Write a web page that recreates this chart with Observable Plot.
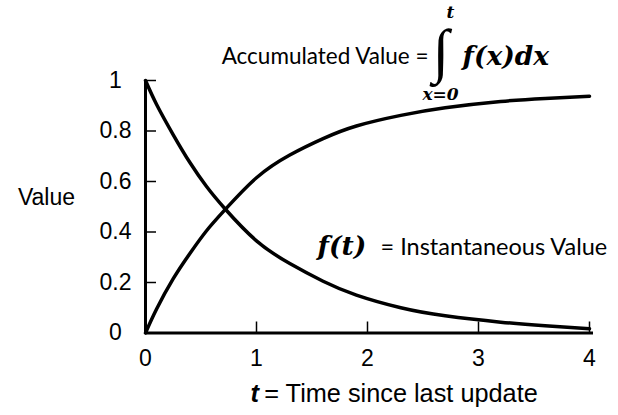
<!DOCTYPE html>
<html>
<head>
<meta charset="utf-8">
<script src="https://cdn.jsdelivr.net/npm/d3@7"></script>
<script src="https://cdn.jsdelivr.net/npm/@observablehq/plot@0.6"></script>
<style>
  html, body { margin: 0; padding: 0; background: #fff; }
  #chart svg { display: block; }
</style>
</head>
<body>
<div id="chart"></div>
<script>
// ---- data ----
const timeValues = [0, 0.1, 0.25, 0.4, 0.55, 0.72, 1.0, 1.3, 1.6, 1.9, 2.3, 2.7, 3.2, 3.6, 4.0];
const accumulatedValues = [0, 0.095, 0.215, 0.315, 0.405, 0.49, 0.615, 0.705, 0.77, 0.82, 0.862, 0.892, 0.917, 0.929, 0.938];
const instantaneousValues = [1.0, 0.905, 0.785, 0.675, 0.58, 0.49, 0.365, 0.275, 0.205, 0.15, 0.10, 0.068, 0.043, 0.029, 0.017];
const xTicks = [0, 1, 2, 3, 4];
const yTicks = [0, 0.2, 0.4, 0.6, 0.8, 1];
const yLabel = "Value";
const xLabelVar = "t";
const xLabelRest = "= Time since last update";
const accLabel = "Accumulated Value =";
const integralSign = "\u222B";
const upperLimit = "t";
const lowerLimit = "x=0";
const integrand = "f(x)dx";
const instFunc = "f(t)";
const instLabel = "= Instantaneous Value";

const accData = timeValues.map((t, i) => ({t, v: accumulatedValues[i]}));
const instData = timeValues.map((t, i) => ({t, v: instantaneousValues[i]}));

const sans = "Liberation Sans, Arial, sans-serif";
const humanist = "Lato, Open Sans, sans-serif";
const mathFont = "DejaVu Serif, serif";
const fmt = d => String(d);

const chart = Plot.plot({
  width: 618,
  height: 415,
  marginLeft: 145,
  marginRight: 29,
  marginTop: 80,
  marginBottom: 82.5,
  x: {domain: [0, 4]},
  y: {domain: [0, 1]},
  style: {fontFamily: sans, color: "#000", background: "#fff"},
  marks: [
    Plot.axisX({ticks: xTicks, tickFormat: fmt, tickSize: -11, tickPadding: 28, fontSize: 23, strokeWidth: 1.5, label: null, fontFamily: sans}),
    Plot.axisY({ticks: yTicks, tickFormat: fmt, tickSize: -11, tickPadding: 41, textAnchor: "middle", fontSize: 23, strokeWidth: 1.5, label: null, fontFamily: sans}),
    Plot.ruleX([0], {stroke: "#000", strokeWidth: 3}),
    Plot.ruleY([0], {stroke: "#000", strokeWidth: 3, insetRight: -4}),
    Plot.line(accData, {x: "t", y: "v", curve: "natural", stroke: "#000", strokeWidth: 3.5}),
    Plot.line(instData, {x: "t", y: "v", curve: "natural", stroke: "#000", strokeWidth: 3.5}),
    // y label
    Plot.text([yLabel], {frameAnchor: "left", dx: -99, dy: -9, textAnchor: "middle", lineAnchor: "middle", fontSize: 23, fontFamily: sans}),
    // x label
    Plot.text([xLabelVar], {x: 0.946, y: -0.275, textAnchor: "start", lineAnchor: "bottom", fontSize: 25.5, fontFamily: sans, fontWeight: "bold", fontStyle: "italic"}),
    Plot.text([xLabelRest], {x: 1.07, y: -0.275, textAnchor: "start", lineAnchor: "bottom", fontSize: 25.3, fontFamily: sans}),
    // accumulated annotation
    Plot.text([accLabel], {x: 2.55, y: 1.067, textAnchor: "end", lineAnchor: "bottom", fontSize: 22.5, fontFamily: humanist}),
    Plot.text([integralSign], {x: 2.66, y: 1.036, textAnchor: "middle", lineAnchor: "bottom", fontSize: 60, fontFamily: "Liberation Serif, serif"}),
    Plot.text([upperLimit], {x: 2.748, y: 1.246, textAnchor: "middle", lineAnchor: "bottom", fontSize: 17, fontFamily: mathFont, fontWeight: "bold", fontStyle: "italic"}),
    Plot.text([lowerLimit], {x: 2.658, y: 0.921, textAnchor: "middle", lineAnchor: "bottom", fontSize: 17, fontFamily: mathFont, fontWeight: "bold", fontStyle: "italic"}),
    Plot.text([integrand], {x: 2.856, y: 1.063, textAnchor: "start", lineAnchor: "bottom", fontSize: 26.5, fontFamily: mathFont, fontWeight: "bold", fontStyle: "italic"}),
    // instantaneous annotation
    Plot.text([instFunc], {x: 1.55, y: 0.307, textAnchor: "start", lineAnchor: "bottom", fontSize: 26.5, fontFamily: mathFont, fontWeight: "bold", fontStyle: "italic"}),
    Plot.text([instLabel], {x: 2.117, y: 0.307, textAnchor: "start", lineAnchor: "bottom", fontSize: 23.5, fontFamily: humanist})
  ]
});
document.getElementById("chart").appendChild(chart);
</script>
</body>
</html>
